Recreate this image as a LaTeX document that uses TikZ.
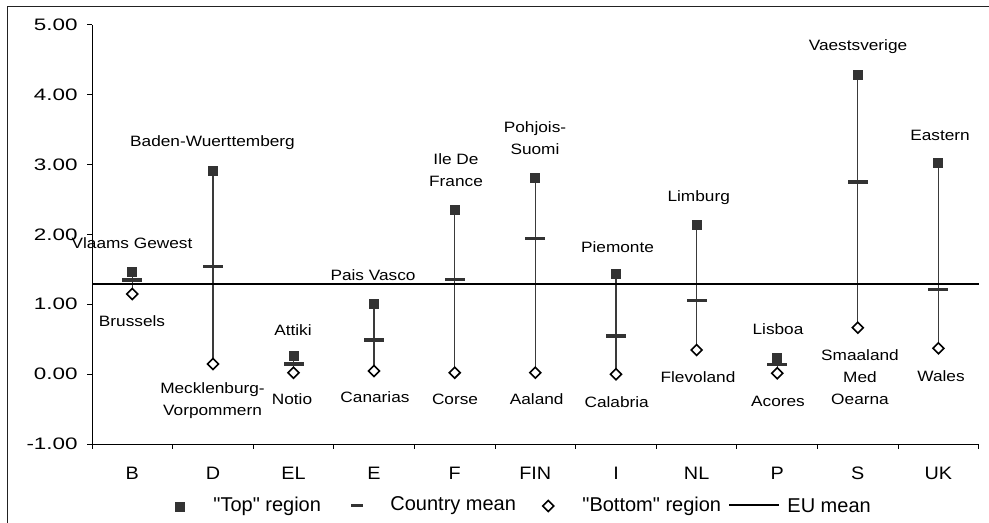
\documentclass[tikz,border=0pt]{standalone}
\usepackage{fontspec}
\setmainfont{Liberation Sans}
\usetikzlibrary{shapes.geometric}
\pgfdeclarelayer{bg}
\pgfsetlayers{bg,main}
\definecolor{markc}{HTML}{333333}
\definecolor{whiskc}{HTML}{3A3A3A}
\definecolor{framec}{HTML}{222222}
\newcommand\sxl[1]{\scalebox{1.15}[1]{#1}}
\newcommand\sxt[1]{\scalebox{1.35}[1]{#1}}
\newcommand\sxc[1]{\scalebox{1.1}[1]{#1}}
\tikzset{
  topmark/.style={rectangle,fill=markc,draw=none,minimum size=5pt,inner sep=0pt},
  botmark/.style={diamond,draw=black,fill=white,line width=0.8pt,minimum size=5.8pt,inner sep=0pt},
  meanmark/.style={rectangle,fill=markc,draw=none,minimum width=10pt,minimum height=1.7pt,inner sep=0pt},
  legmean/.style={rectangle,fill=markc,draw=none,minimum width=6.3pt,minimum height=1.7pt,inner sep=0pt},
  whisker/.style={draw=whiskc,line width=0.6pt},
  lbl/.style={font=\fontsize{7.5}{11}\selectfont,align=center,inner sep=0pt,text=black},
  ticklbl/.style={font=\fontsize{8.3}{9}\selectfont,anchor=east,inner sep=0pt},
  catlbl/.style={font=\fontsize{9}{10}\selectfont,inner sep=0pt},
  leglbl/.style={font=\fontsize{10}{11}\selectfont,anchor=west,inner sep=0pt},
  axisline/.style={draw=black,line width=0.5pt},
  eumean/.style={draw=black,line width=0.85pt},
  framel/.style={draw=framec,line width=0.9pt}
}
\begin{document}
\begin{tikzpicture}[x=0.5pt,y=-0.5pt]
\useasboundingbox (0,0) rectangle (989,523);
% outer frame (top and left edges)
\draw[framel] (7.5,523) -- (7.5,6.5) -- (989,6.5);
% y axis
\draw[axisline] (92,25) -- (92,444);
\foreach \v/\y in {5.00/25,4.00/94.8,3.00/164.6,2.00/234.4,1.00/304.2,0.00/374,-1.00/444}{
  \draw[axisline] (87,\y) -- (92,\y);
  \node[ticklbl] at (78,\y) {\sxt{\v}};
}
% x axis
\draw[axisline] (92,444) -- (979,444);
\foreach \k in {0,...,11}{
  \draw[axisline] ({92+80.6*\k},444) -- ({92+80.6*\k},449);
}
% EU mean
\coordinate (euL) at (92,284.3);
\coordinate (euR) at (979,284.3);
\draw[eumean] (euL) -- (euR);
% data
\foreach \n/\x/\t/\m/\b in {
  B/132.3/272.5/280/294,
  D/213/170.7/266.7/364,
  EL/293.5/356/364/372.7,
  E/374/304/340/371,
  F/454.7/210/279.3/372.7,
  FIN/535.3/178.3/238.3/372.7,
  I/616/274.3/336/374.3,
  NL/696.6/225/300.7/350,
  P/777.2/358.3/364.3/373.3,
  S/857.8/75/182/327.7,
  UK/938.4/163.3/289.3/348.3}{
  \node[topmark] (t\n) at (\x,\t) {};
  \node[botmark] (b\n) at (\x,\b) {};
  \begin{pgfonlayer}{bg}
    \draw[whisker] (t\n.center) -- (b\n.center);
  \end{pgfonlayer}
  \node[meanmark] (m\n) at (\x,\m) {};
  \node[catlbl] (c\n) at (\x,473.3) {\sxc{\n}};
}
% region labels
\node[lbl] (lBt) at (132,243) {\sxl{Vlaams Gewest}};
\node[lbl] (lBb) at (132,320.7) {\sxl{Brussels}};
\node[lbl] (lDt) at (212.5,142.7) {\sxl{Baden-Wuerttemberg}};
\node[lbl] (lDb) at (212.5,401) {\sxl{Mecklenburg-}\\\sxl{Vorpommern}};
\node[lbl] (lELt) at (293,330) {\sxl{Attiki}};
\node[lbl] (lELb) at (292,399.3) {\sxl{Notio}};
\node[lbl] (lEt) at (373,275) {\sxl{Pais Vasco}};
\node[lbl] (lEb) at (375,397.3) {\sxl{Canarias}};
\node[lbl] (lFt) at (456,170.5) {\sxl{Ile De}\\\sxl{France}};
\node[lbl] (lFb) at (455,399.3) {\sxl{Corse}};
\node[lbl] (lFINt) at (535,138) {\sxl{Pohjois-}\\\sxl{Suomi}};
\node[lbl] (lFINb) at (536.7,399) {\sxl{Aaland}};
\node[lbl] (lIt) at (617.5,246.7) {\sxl{Piemonte}};
\node[lbl] (lIb) at (616.7,401.7) {\sxl{Calabria}};
\node[lbl] (lNLt) at (698.7,197.7) {\sxl{Limburg}};
\node[lbl] (lNLb) at (698,376.7) {\sxl{Flevoland}};
\node[lbl] (lPt) at (778,329.3) {\sxl{Lisboa}};
\node[lbl] (lPb) at (778,401.7) {\sxl{Acores}};
\node[lbl] (lSt) at (858,46.7) {\sxl{Vaestsverige}};
\node[lbl] (lSb) at (860,377.5) {\sxl{Smaaland}\\\sxl{Med}\\\sxl{Oearna}};
\node[lbl] (lUKt) at (940,135) {\sxl{Eastern}};
\node[lbl] (lUKb) at (941,375.7) {\sxl{Wales}};
% legend
\node[topmark] (legT) at (180,506.5) {};
\node[leglbl] (legTt) at (213,506) {\textquotedbl Top\textquotedbl{} region};
\node[legmean] (legM) at (357,505.7) {};
\node[leglbl] (legMt) at (390,506) {Country mean};
\node[botmark] (legB) at (548.3,506) {};
\node[leglbl] (legBt) at (582,506) {\textquotedbl Bottom\textquotedbl{} region};
\coordinate (legEa) at (729.3,505);
\coordinate (legEb) at (779.3,505);
\draw[eumean] (legEa) -- (legEb);
\node[leglbl] (legEt) at (787,506) {EU mean};
\end{tikzpicture}
\end{document}
